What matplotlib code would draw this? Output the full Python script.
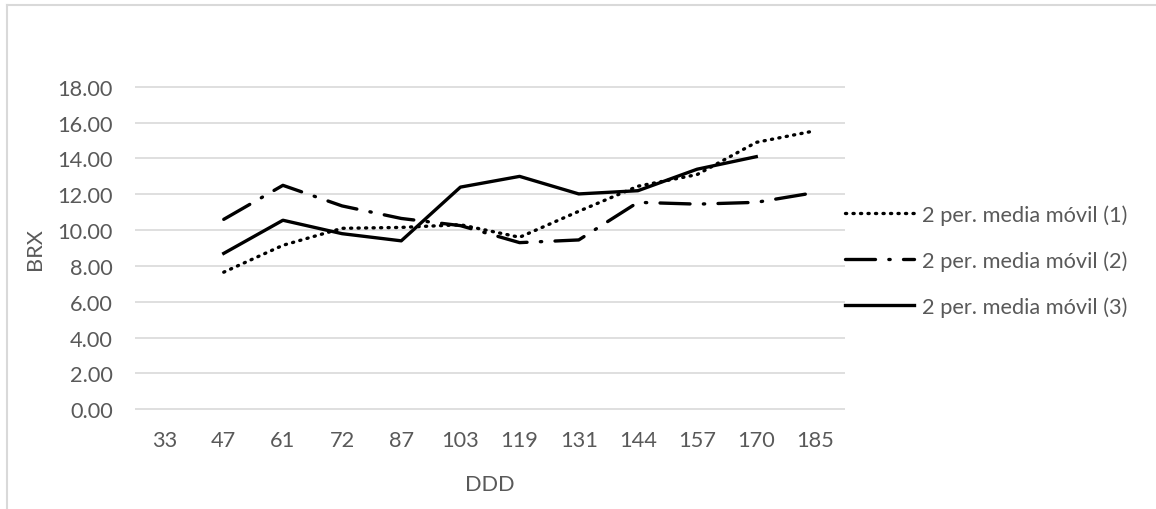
import matplotlib
matplotlib.use("Agg")
import matplotlib.pyplot as plt
from matplotlib.lines import Line2D

categories = ["33", "47", "61", "72", "87", "103", "119", "131", "144", "157", "170", "185"]
series1 = [None, 7.65, 9.15, 10.1, 10.15, 10.3, 9.6, 11.05, 12.45, 13.1, 14.9, 15.55]
series2 = [None, 10.6, 12.5, 11.35, 10.65, 10.25, 9.3, 9.45, 11.55, 11.45, 11.55, 12.1]
series3 = [None, 8.7, 10.55, 9.8, 9.4, 12.4, 13.0, 12.02, 12.2, 13.4, 14.1, None]
labels = ["2 per. media móvil (1)", "2 per. media móvil (2)", "2 per. media móvil (3)"]
yticks = [0, 2, 4, 6, 8, 10, 12, 14, 16, 18]

plt.rcParams['font.family'] = ['Lato', 'DejaVu Sans']
gray = "#595959"
FS = 15.7

fig = plt.figure(figsize=(11.56, 5.10), dpi=100)
W, H = 1156, 510
ax = fig.add_axes([135 / W, 1 - 420 / H, (845 - 135) / W, (420 - 78) / H])

x = list(range(len(categories)))

def seg(vals):
    xs = [i for i, v in zip(x, vals) if v is not None]
    ys = [v for v in vals if v is not None]
    return xs, ys

LW = 2.4
xs, ys = seg(series1)
ax.plot(xs, ys, color="black", lw=LW, linestyle=(0, (0.35, 1.9)), dash_capstyle="round", label=labels[0], zorder=3)
xs, ys = seg(series2)
ax.plot(xs, ys, color="black", lw=LW, linestyle=(0, (9, 4, 0.4, 4)), dash_capstyle="round", label=labels[1], zorder=3)
xs, ys = seg(series3)
ax.plot(xs, ys, color="black", lw=LW, linestyle="-", label=labels[2], zorder=3)

ax.set_xlim(-0.5, len(categories) - 0.5)
ax.set_ylim(-0.55, 18.55)
ax.set_yticks(yticks)
ax.set_yticklabels([f"{v:.2f}" for v in yticks])
ax.set_xticks(x)
ax.set_xticklabels(categories)
ax.grid(axis="y", color="#d9d9d9", lw=1.2)
ax.set_axisbelow(True)
for s in ax.spines.values():
    s.set_visible(False)
ax.tick_params(length=0, labelsize=FS, colors=gray)
ax.tick_params(axis="x", pad=8)
ax.tick_params(axis="y", pad=16)
ax.set_xlabel("DDD", fontsize=FS, color=gray, labelpad=17)
ax.set_ylabel("BRX", fontsize=FS, color=gray, labelpad=9)

leg = fig.legend(loc="upper left", bbox_to_anchor=(845 / W, 1 - 205 / H), frameon=False,
                 fontsize=FS, handlelength=3.15, handletextpad=0.4, labelspacing=1.17,
                 borderaxespad=0, borderpad=0)
for t in leg.get_texts():
    t.set_color(gray)

# chart frame
fig.add_artist(Line2D([7 / W, 7 / W], [0, 1 - 6 / H], color="#d9d9d9", lw=1.5))
fig.add_artist(Line2D([7 / W, 1], [1 - 6 / H, 1 - 6 / H], color="#d9d9d9", lw=1.5))

fig.savefig("out.png", dpi=100, facecolor="white")
